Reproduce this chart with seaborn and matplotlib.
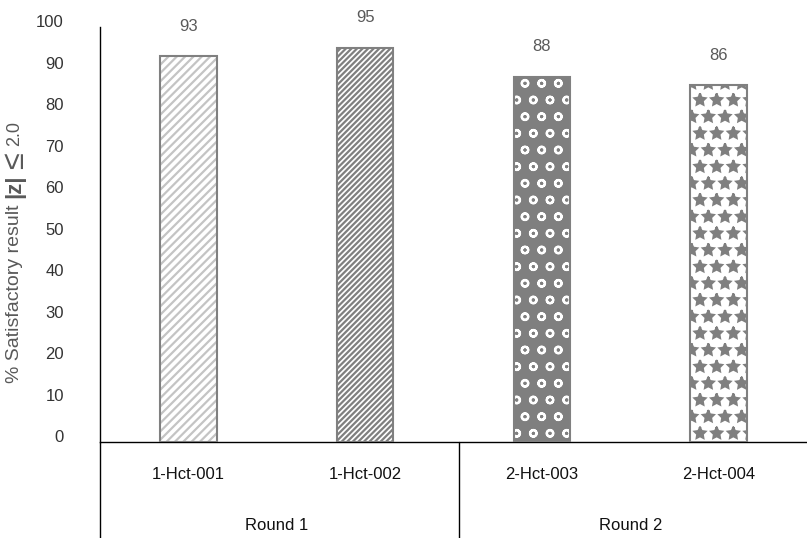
import matplotlib
matplotlib.use("Agg")
import numpy as np
import pandas as pd
import seaborn as sns
import matplotlib.pyplot as plt
from matplotlib.lines import Line2D

categories = ["1-Hct-001", "1-Hct-002", "2-Hct-003", "2-Hct-004"]
rounds     = ["Round 1", "Round 1", "Round 2", "Round 2"]
values     = [93, 95, 88, 86]
yticks     = list(range(0, 101, 10))

sns.set_style("white")
plt.rcParams["font.family"] = ["Liberation Sans", "DejaVu Sans"]
plt.rcParams["hatch.linewidth"] = 1.6

df = pd.DataFrame({"sample": categories, "round": rounds, "value": values})

fig = plt.figure(figsize=(8.07, 5.38), dpi=100)
ax = fig.add_axes([0.1239, 0.1784, 0.8761, 0.7714])

sns.barplot(data=df, x="sample", y="value", ax=ax, width=0.32,
            color="white", edgecolor="#808080", linewidth=1.5)

gray    = "#7f7f7f"
hatches = ["////", "//////", "o", "*"]
faces   = ["white", "white", gray, "white"]
hcols   = ["#c4c4c4", gray, "white", gray]
for p, h, fc, hc in zip(list(ax.patches), hatches, faces, hcols):
    p.set_facecolor(fc)
    p.set_hatch(h)
    p.set_edgecolor(hc)
    p.set_linewidth(0)
    # outline drawn on top
    ax.add_patch(plt.Rectangle(p.get_xy(), p.get_width(), p.get_height(),
                               fill=False, edgecolor="#808080", linewidth=1.5, zorder=3))

for i, v in enumerate(values):
    ax.text(i, v + 7.2, str(v), ha="center", va="center", fontsize=12, color="#595959")

ax.set_ylim(0, 100)
ax.set_xlim(-0.5, 3.5)
ax.set_yticks(yticks)
ax.set_yticklabels([str(t) for t in yticks], fontsize=12, color="#333333")
ax.tick_params(axis="y", length=0, pad=26)
ax.tick_params(axis="x", length=0, pad=18, labelsize=12, labelcolor="#111111")
for lab in ax.get_yticklabels():
    lab.set_va("baseline")
ax.set_xlabel("")
ax.set_ylabel("")

for s in ["top", "right"]:
    ax.spines[s].set_visible(False)
ax.spines["left"].set_color("black")
ax.spines["bottom"].set_color("black")
ax.spines["left"].set_linewidth(1.0)
ax.spines["bottom"].set_linewidth(1.0)

# multi-level axis: extended left spine, group separator, group labels
trans = ax.get_xaxis_transform()
ax.add_line(Line2D([-0.5, -0.5], [0, -0.24], transform=trans, color="black", lw=1.0, clip_on=False))
ax.add_line(Line2D([1.53, 1.53], [0, -0.24], transform=trans, color="black", lw=1.0, clip_on=False))
for pos, name in [(0.5, "Round 1"), (2.5, "Round 2")]:
    ax.text(pos, -0.2, name, transform=trans, ha="center", va="center", fontsize=12, color="#111111")

# y label built from pieces, stacked bottom to top
label_parts = [("% Satisfactory result", 14, "normal"), ("|z|", 16, "bold"),
               ("≤", 22, "normal"), ("2.0", 13, "normal")]
fig.canvas.draw()
ypos = 155
for txt, size, weight in label_parts:
    t = fig.text(15 / 807, ypos / 538, txt, rotation=90, ha="center", va="bottom",
                 fontsize=size, fontweight=weight, color="#595959")
    bb = t.get_window_extent(fig.canvas.get_renderer())
    ypos = bb.y1 + 6

fig.savefig("out.png", dpi=100)
